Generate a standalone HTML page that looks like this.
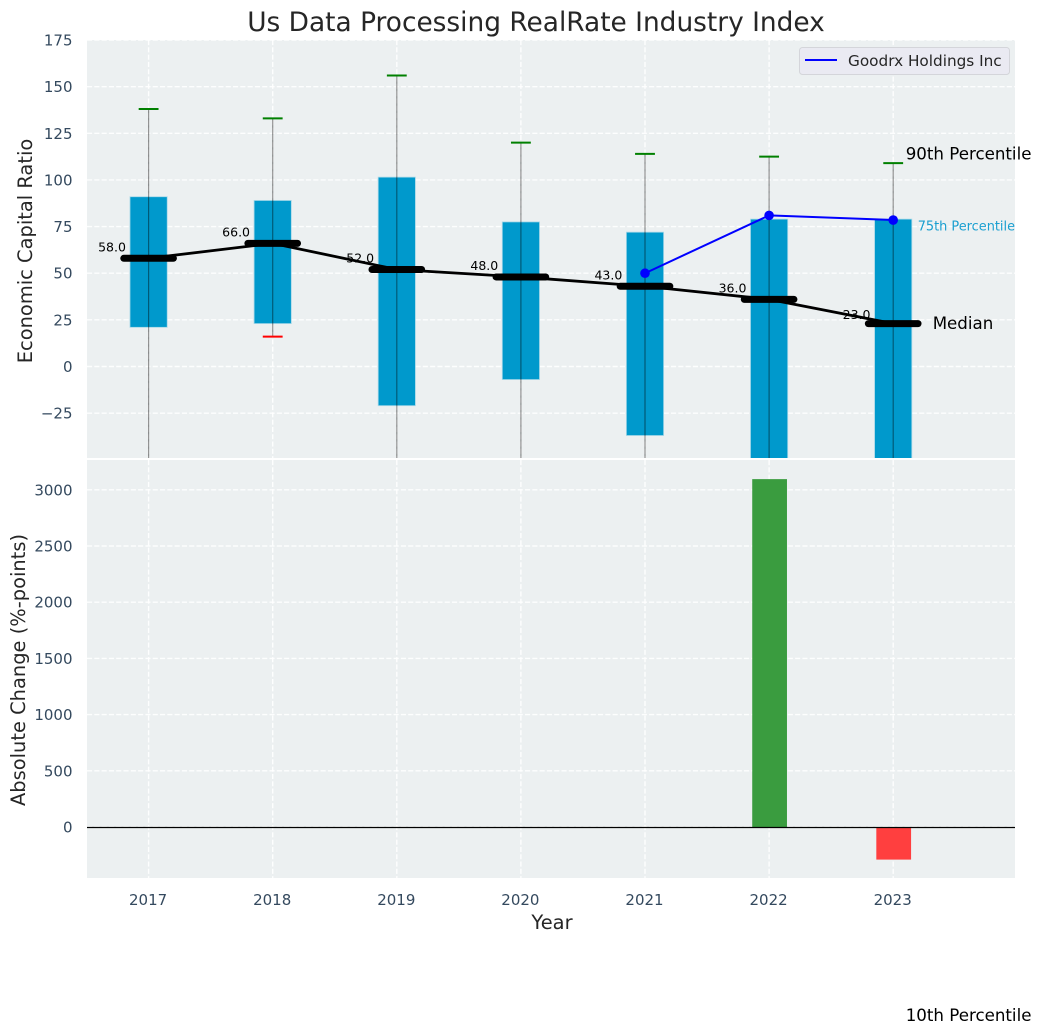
<!DOCTYPE html>
<html lang="en">
<head>
<meta charset="utf-8">
<title>Us Data Processing RealRate Industry Index</title>
<style>
html,body{margin:0;padding:0;background:#fff;}
body{width:1041px;height:1035px;overflow:hidden;}
svg{display:block;font-family:"DejaVu Sans","Liberation Sans",sans-serif;}
</style>
</head>
<body>
<svg id="chart" xmlns="http://www.w3.org/2000/svg" width="1041" height="1035" viewBox="0 0 1041 1035">
  <defs>
    <clipPath id="clip-top"><rect x="87" y="40" width="928" height="418"/></clipPath>
    <clipPath id="clip-bottom"><rect x="87" y="460" width="928" height="418"/></clipPath>
  </defs>
  <rect x="0" y="0" width="1041" height="1035" fill="#ffffff"/>
  <rect x="87" y="40" width="928" height="418" fill="#ecf0f1"/>
  <rect x="87" y="460" width="928" height="418" fill="#ecf0f1"/>
  <g id="grid-top" clip-path="url(#clip-top)"></g>
  <g id="grid-bottom" clip-path="url(#clip-bottom)"></g>
  <g id="marks-top" clip-path="url(#clip-top)"></g>
  <g id="marks-bottom" clip-path="url(#clip-bottom)"></g>
  <g id="ticks"></g>
  <g id="annotations"></g>
  <text x="536" y="31" text-anchor="middle" font-size="26.4" fill="#262626">Us Data Processing RealRate Industry Index</text>
  <text transform="translate(32,251) rotate(-90)" text-anchor="middle" font-size="19.44" fill="#262626">Economic Capital Ratio</text>
  <text transform="translate(25,670) rotate(-90)" text-anchor="middle" font-size="19.44" fill="#262626">Absolute Change (%-points)</text>
  <text x="552" y="929" text-anchor="middle" font-size="19.44" fill="#262626">Year</text>
  <g>
    <rect x="799.5" y="47.5" width="210" height="27" rx="3" fill="#eaeaf2" stroke="#d4d5da" stroke-width="1"/>
    <line x1="805" y1="60" x2="837" y2="60" stroke="#0000ff" stroke-width="2"/>
    <text x="848" y="66" font-size="15.28" fill="#262626">Goodrx Holdings Inc</text>
  </g>
</svg>
<script>
const years = [2017, 2018, 2019, 2020, 2021, 2022, 2023];
const p90 = [138, 133, 156, 120, 114, 112.5, 109];
const p75 = [91, 89, 101.5, 77.5, 72, 79, 79];
const median = [58, 66, 52, 48, 43, 36, 23];
const p25 = [21, 23, -21, -7, -37, -60, -60];
const p10 = [-70, 16, -75, -65, -80, -200, -348];
const goodrx = [null, null, null, null, 50, 81, 78.5];
const absChange = [null, null, null, null, null, 3095, -290];
const topTicks = [175, 150, 125, 100, 75, 50, 25, 0, -25];
const bottomTicks = [3000, 2500, 2000, 1500, 1000, 500, 0];

const SVGNS = 'http://www.w3.org/2000/svg';
const X_ORIGIN = 148.6, X_STEP = 124.1;
const xScale = function (year) { return X_ORIGIN + (year - years[0]) * X_STEP; };
const yTop = function (v) { return 366.5 - v * 1.8656; };
const yBottom = function (v) { return 827 - v * 0.1124; };
const PLOT_LEFT = 87, PLOT_RIGHT = 1015;
const tickColor = '#34495e';

function make(tag, attrs, parent, text) {
  const el = document.createElementNS(SVGNS, tag);
  Object.keys(attrs).forEach(function (k) { el.setAttribute(k, attrs[k]); });
  if (text !== undefined) el.textContent = text;
  parent.appendChild(el);
  return el;
}

const gridTop = document.getElementById('grid-top');
const gridBottom = document.getElementById('grid-bottom');
const marksTop = document.getElementById('marks-top');
const marksBottom = document.getElementById('marks-bottom');
const ticks = document.getElementById('ticks');
const annotations = document.getElementById('annotations');
const gridStyle = { stroke: '#ffffff', 'stroke-width': 1.4, 'stroke-dasharray': '5.1,2.2', 'stroke-opacity': 0.9 };

topTicks.forEach(function (t) {
  const y = yTop(t);
  const g = make('line', Object.assign({ x1: PLOT_LEFT, x2: PLOT_RIGHT, y1: y, y2: y }, gridStyle), gridTop);
  
  
  const label = make('text', { x: 72.5, y: y + 5.5, 'text-anchor': 'end', 'font-size': 15, fill: tickColor }, ticks, String(t).replace('-', '\u2212'));
  
  
});

bottomTicks.forEach(function (t) {
  const y = yBottom(t);
  const g = make('line', Object.assign({ x1: PLOT_LEFT, x2: PLOT_RIGHT, y1: y, y2: y }, gridStyle), gridBottom);
  
  
  const label = make('text', { x: 72.5, y: y + 5.5, 'text-anchor': 'end', 'font-size': 15, fill: tickColor }, ticks, String(t));
  
  
});

years.forEach(function (yr) {
  const x = xScale(yr);
  const a = make('line', Object.assign({ x1: x, x2: x, y1: 40, y2: 458 }, gridStyle), gridTop);
  
  
  const b = make('line', Object.assign({ x1: x, x2: x, y1: 460, y2: 878 }, gridStyle), gridBottom);
  
  
  const label = make('text', { x: x - 0.5, y: 905, 'text-anchor': 'middle', 'font-size': 15, fill: tickColor }, ticks, String(yr));
  
  
});

const BOX_WIDTH = 0.3, BAR_WIDTH = 0.28, MEDIAN_WIDTH = 0.4, CAP_WIDTH = 0.16;

years.forEach(function (yr, i) {
  const x = xScale(yr);
  const half = BOX_WIDTH * X_STEP / 2;
  const box = make('rect', {
    x: x - half, y: yTop(p75[i]),
    width: half * 2, height: yTop(p25[i]) - yTop(p75[i]),
    fill: '#0099cc', stroke: '#a8d8e8', 'stroke-width': 0.8
  }, marksTop);
  
  
});

const medianPath = years.map(function (yr, i) {
  return (i ? 'L' : 'M') + xScale(yr) + ' ' + yTop(median[i]);
}).join(' ');
const medianLine = make('path', { d: medianPath, fill: 'none', stroke: '#000000', 'stroke-width': 2.8 }, marksTop);



years.forEach(function (yr, i) {
  const x = xScale(yr);
  const whisker = make('line', { x1: x, x2: x, y1: yTop(p90[i]), y2: yTop(p10[i]), stroke: '#000000', 'stroke-opacity': 0.42, 'stroke-width': 1.2 }, marksTop);
  
  
  const capHalf = CAP_WIDTH * X_STEP / 2;
  const capHigh = make('line', { x1: x - capHalf, x2: x + capHalf, y1: yTop(p90[i]), y2: yTop(p90[i]), stroke: '#008000', 'stroke-width': 2 }, marksTop);
  
  
  const capLow = make('line', { x1: x - capHalf, x2: x + capHalf, y1: yTop(p10[i]), y2: yTop(p10[i]), stroke: '#ff0000', 'stroke-width': 2 }, marksTop);
  
  
  const medHalf = MEDIAN_WIDTH * X_STEP / 2;
  const med = make('line', { x1: x - medHalf, x2: x + medHalf, y1: yTop(median[i]), y2: yTop(median[i]), stroke: '#000000', 'stroke-width': 7, 'stroke-linecap': 'round' }, marksTop);
  
  
  const lift = i === years.length - 1 ? 4.5 : 7;
  const label = make('text', { x: x - 36.6, y: yTop(median[i]) - lift, 'text-anchor': 'middle', 'font-size': 12.5, fill: '#000000' }, annotations, median[i].toFixed(1));
  
  
});

const goodrxPoints = [];
goodrx.forEach(function (v, i) {
  if (v !== null) goodrxPoints.push([xScale(years[i]), yTop(v)]);
});
const goodrxLine = make('path', {
  d: goodrxPoints.map(function (p, i) { return (i ? 'L' : 'M') + p[0] + ' ' + p[1]; }).join(' '),
  fill: 'none', stroke: '#0000ff', 'stroke-width': 2
}, marksTop);


goodrxPoints.forEach(function (p) {
  const dot = make('circle', { cx: p[0], cy: p[1], r: 4.8, fill: '#0000ff' }, marksTop);
  
  
});

years.forEach(function (yr, i) {
  const v = absChange[i];
  if (v === null) return;
  const half = BAR_WIDTH * X_STEP / 2;
  const top = Math.min(yBottom(v), yBottom(0));
  const bar = make('rect', {
    x: xScale(yr) - half + 0.5, y: top,
    width: half * 2, height: Math.abs(yBottom(v) - yBottom(0)),
    fill: v >= 0 ? '#3a9c3f' : '#ff3f3f'
  }, marksBottom);
  
  
});

const zeroLine = make('line', { x1: PLOT_LEFT, x2: PLOT_RIGHT, y1: yBottom(0) + 0.5, y2: yBottom(0) + 0.5, stroke: '#000000', 'stroke-width': 1.2 }, marksBottom);



const last = years.length - 1;
const lastX = xScale(years[last]);
const label90 = make('text', { x: lastX + 12.5, y: yTop(p90[last]) - 3.5, 'font-size': 16.67, fill: '#000000' }, annotations, '90th Percentile');


const label75 = make('text', { x: lastX + 24.5, y: yTop(p75[last]) + 11.5, 'font-size': 12.9, fill: '#1a9fd0' }, annotations, '75th Percentile');


const labelMedian = make('text', { x: lastX + 39.5, y: yTop(median[last]) + 5.5, 'font-size': 16.67, fill: '#000000' }, annotations, 'Median');


const label10 = make('text', { x: lastX + 12.5, y: yTop(p10[last]) + 5.5, 'font-size': 16.67, fill: '#000000' }, annotations, '10th Percentile');


</script>
</body>
</html>
